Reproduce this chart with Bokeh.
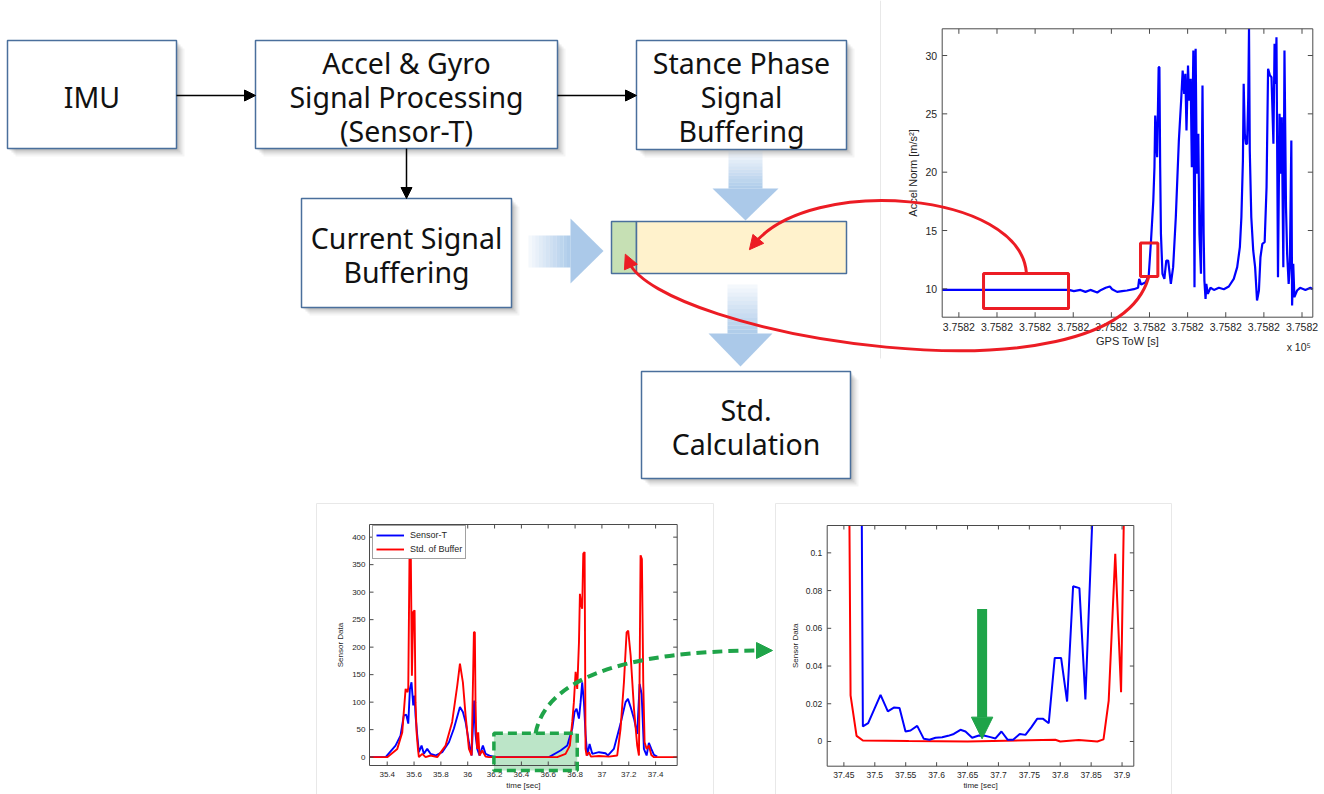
import math
from bokeh.plotting import figure
from bokeh.models import Range1d, Arrow, NormalHead, Legend, LegendItem
from bokeh.core.properties import value
from bokeh.embed import file_html
from bokeh.resources import INLINE

# ------------------------------------------------------------------ data
# Top-right chart: accel norm vs GPS time of week (x in tick units, all ticks read 3.7582 x 10^5)
tow_ticks = [0, 1, 2, 3, 4, 5, 6, 7, 8, 9]
tow_tick_labels = ["3.7582"] * 10
accel_ticks = [10, 15, 20, 25, 30]
accel_tick_labels = ["10", "15", "20", "25", "30"]
tow_rel = [-0.437, 2.885, 3.016, 3.19, 3.32, 3.45, 3.63, 3.73, 3.85, 3.96,
           4.02, 4.15, 4.28, 4.41, 4.59, 4.70, 4.73, 4.78, 4.90, 4.98,
           5.04, 5.10, 5.13, 5.15, 5.17, 5.20, 5.24, 5.26, 5.28, 5.30,
           5.34, 5.39, 5.44, 5.49, 5.56, 5.62, 5.69, 5.77, 5.83, 5.87,
           5.91, 5.94, 5.97, 6.01, 6.04, 6.08, 6.11, 6.15, 6.18, 6.21,
           6.24, 6.28, 6.31, 6.35, 6.39, 6.42, 6.44, 6.47, 6.49, 6.53,
           6.60, 6.69, 6.82, 6.95, 7.08, 7.21, 7.30, 7.37, 7.41, 7.45,
           7.47, 7.50, 7.53, 7.56, 7.59, 7.61, 7.63, 7.67, 7.72, 7.77,
           7.82, 7.87, 7.91, 7.96, 8.02, 8.07, 8.11, 8.16, 8.20, 8.25,
           8.28, 8.31, 8.33, 8.37, 8.41, 8.44, 8.47, 8.51, 8.54, 8.58,
           8.61, 8.65, 8.68, 8.72, 8.74, 8.77, 8.80, 8.87, 8.95, 9.09,
           9.22, 9.28]
accel_norm = [9.91, 9.91, 9.80, 9.91, 9.74, 9.91, 9.69, 9.91, 10.09, 10.2,
              9.97, 9.74, 9.80, 9.86, 9.97, 10.09, 10.86, 10.37, 10.57, 11.14,
              14.14, 17.57, 20.43, 24.86, 23.29, 21.29, 29.0, 29.0, 20.43, 14.71,
              11.29, 10.86, 12.43, 12.43, 10.43, 11.86, 16.14, 22.71, 26.14, 28.71,
              26.71, 28.43, 23.57, 29.14, 26.14, 28.0, 20.43, 30.43, 10.14, 30.57,
              19.86, 23.29, 14.71, 11.29, 27.43, 14.71, 10.71, 9.14, 10.43, 9.57,
              10.09, 9.91, 10.09, 9.97, 10.2, 10.86, 11.86, 13.57, 16.14, 21.0,
              27.57, 23.29, 22.43, 22.43, 26.43, 32.29, 21.86, 16.14, 13.29, 11.86,
              9.0, 9.86, 12.71, 13.86, 14.0, 18.71, 28.86, 28.29, 28.14, 22.43,
              31.0, 27.57, 31.57, 11.0, 25.0, 19.86, 24.71, 11.86, 30.43, 17.0,
              13.0, 10.43, 11.86, 22.71, 8.57, 12.14, 9.29, 9.86, 10.09, 9.91,
              10.09, 9.97]
# highlighted windows on the top-right chart (x0, x1, y0, y1)
window_static = [0.647, 2.876, 8.31, 11.31]
window_current = [4.764, 5.219, 11.06, 13.94]

# Bottom-left chart
bl_x_ticks = [35.4, 35.6, 35.8, 36.0, 36.2, 36.4, 36.6, 36.8, 37.0, 37.2, 37.4]
bl_x_tick_labels = ["35.4", "35.6", "35.8", "36", "36.2", "36.4", "36.6", "36.8", "37", "37.2", "37.4"]
bl_y_ticks = [0, 50, 100, 150, 200, 250, 300, 350, 400]
bl_y_tick_labels = ["0", "50", "100", "150", "200", "250", "300", "350", "400"]
sensor_t_time = [35.268, 35.388, 35.462, 35.499, 35.524, 35.542, 35.557, 35.569, 35.581, 35.594,
                 35.604, 35.611, 35.624, 35.636, 35.656, 35.673, 35.698, 35.723, 35.760, 35.810,
                 35.860, 35.897, 35.942, 35.964, 35.984, 36.009, 36.029, 36.048, 36.058, 36.071,
                 36.088, 36.113, 36.133, 36.170, 36.207, 36.605, 36.692, 36.742, 36.779, 36.796,
                 36.811, 36.829, 36.841, 36.853, 36.866, 36.878, 36.891, 36.908, 36.928, 36.978,
                 37.027, 37.045, 37.089, 37.139, 37.176, 37.194, 37.214, 37.239, 37.263, 37.281,
                 37.296, 37.313, 37.333, 37.350, 37.368, 37.388, 37.412]
sensor_t = [0, 0, 21, 39, 76, 77, 61, 124, 136, 94,
            112, 76, 39, 9, 21, 6, 15, 6, 3, 9,
            27, 52, 91, 82, 64, 27, 3, 103, 42, 15,
            3, 21, 6, 2, 0, 0, 12, 21, 52, 82,
            88, 70, 100, 136, 100, 42, 3, 24, 6, 9,
            7, 3, 15, 61, 100, 106, 91, 70, 42, 133,
            115, 15, 3, 26, 15, 4, 1]
std_buf_time = [35.268, 35.40, 35.475, 35.512, 35.537, 35.552, 35.557, 35.566, 35.576, 35.584,
                35.594, 35.604, 35.611, 35.619, 35.629, 35.636, 35.661, 35.686, 35.723, 35.773,
                35.835, 35.884, 35.922, 35.942, 35.964, 35.984, 36.009, 36.029, 36.046, 36.053,
                36.058, 36.063, 36.071, 36.078, 36.088, 36.108, 36.133, 36.158, 36.667, 36.729,
                36.761, 36.779, 36.791, 36.804, 36.816, 36.829, 36.836, 36.846, 36.853, 36.861,
                36.871, 36.878, 36.886, 36.903, 36.918, 36.978, 37.052, 37.114, 37.139, 37.164,
                37.184, 37.196, 37.214, 37.239, 37.263, 37.276, 37.288, 37.298, 37.308, 37.318,
                37.333, 37.350, 37.368, 37.388, 37.561]
std_buf = [0, 0, 15, 45, 124, 118, 127, 361, 364, 148,
           264, 267, 100, 45, 15, 0, 6, 0, 3, 0,
           21, 64, 130, 170, 136, 76, 15, 3, 227, 227,
           100, 45, 15, 45, 3, 12, 1, 0, 0, 6,
           21, 64, 100, 155, 124, 209, 297, 276, 270, 370,
           373, 15, 3, 9, 1, 2, 1, 3, 52, 136,
           227, 230, 185, 88, 21, 3, 367, 360, 136, 27,
           15, 21, 4, 0, 0]
# highlighted stance window on bottom-left chart (x0, x1, y0, y1)
stance_window = [36.195, 36.816, -24.2, 43.6]

# Bottom-right chart (zoom of stance window)
br_x_ticks = [37.45, 37.5, 37.55, 37.6, 37.65, 37.7, 37.75, 37.8, 37.85, 37.9]
br_x_tick_labels = ["37.45", "37.5", "37.55", "37.6", "37.65", "37.7", "37.75", "37.8", "37.85", "37.9"]
br_y_ticks = [0, 0.02, 0.04, 0.06, 0.08, 0.1]
br_y_tick_labels = ["0", "0.02", "0.04", "0.06", "0.08", "0.1"]
zoom_t_time = [37.479, 37.4807, 37.4893, 37.5093, 37.5211, 37.5308, 37.540, 37.5497, 37.5578, 37.5686,
               37.5793, 37.5885, 37.5982, 37.609, 37.6187, 37.6278, 37.6386, 37.6467, 37.6575, 37.6683,
               37.678, 37.6871, 37.6952, 37.7049, 37.7151, 37.7238, 37.7345, 37.7437, 37.7534, 37.7626,
               37.7723, 37.7814, 37.7911, 37.8014, 37.8111, 37.8208, 37.831, 37.8407, 37.8515]
zoom_t = [0.1145, 0.008, 0.0097, 0.0247, 0.016, 0.018, 0.0178, 0.0053, 0.0058, 0.0083,
          0.0014, 0.0009, 0.002, 0.0023, 0.003, 0.004, 0.0062, 0.0053, 0.002, 0.0032,
          0.003, 0.0023, 0.0016, 0.0053, 0.0009, 0.0009, 0.004, 0.0035, 0.0076, 0.012,
          0.012, 0.0097, 0.0443, 0.0443, 0.0212, 0.0823, 0.0813, 0.0223, 0.1145]
zoom_std_time = [37.459, 37.4608, 37.4705, 37.4807, 37.555, 37.65, 37.792, 37.80, 37.83, 37.86,
                 37.870, 37.8784, 37.889, 37.8984, 37.9027]
zoom_std = [0.1145, 0.0244, 0.003, 0.0005, 0.0002, 0.0, 0.0009, 0.0, 0.0008, 0.0,
            0.0011, 0.0217, 0.0995, 0.0261, 0.1145]
marker_time = 37.6736
marker_top, marker_head, marker_tip = 0.0703, 0.0129, 0.0014
marker_half = 0.0173

# ------------------------------------------------------------------ layout / style
W, H = 1324, 794
BOX_EDGE = "#4a6f9c"
RED = "#ec1c24"
GREEN = "#1fa449"
BLUE_ARROW = "#9cc0e5"
DIAG_FONT = value("Noto Sans")
CHART_FONT = value("Liberation Sans")

p = figure(width=W, height=H, x_range=Range1d(0, W), y_range=Range1d(H, 0),
           output_backend="svg", toolbar_location=None,
           x_axis_type=None, y_axis_type=None, min_border=0,
           outline_line_color=None, background_fill_color="white",
           border_fill_color="white")
p.grid.visible = False

# faint frames of the pasted chart images
p.line(x=[880, 880], y=[0, 358], line_color="#e8e8e8", line_width=1)
p.quad(left=[316, 775], right=[713, 1171], top=[503, 503], bottom=[794, 794],
       fill_color=None, line_color="#e8e8e8", line_width=1)

# ------------------------------------------------------------------ flow diagram
boxes = [
    (7, 176, 40, 148, ["IMU"]),
    (255, 557, 40, 148, ["Accel & Gyro", "Signal Processing", "(Sensor-T)"]),
    (636, 846, 40, 149, ["Stance Phase", "Signal", "Buffering"]),
    (301, 511, 198, 307, ["Current Signal", "Buffering"]),
    (641, 850, 371, 478, ["Std.", "Calculation"]),
]
for off, a in [(2, 0.10), (4, 0.08), (6, 0.06), (8, 0.04)]:
    p.quad(left=[b[0] + off for b in boxes], right=[b[1] + off for b in boxes],
           top=[b[2] + off for b in boxes], bottom=[b[3] + off for b in boxes],
           fill_color="black", fill_alpha=a, line_color=None)
p.quad(left=[b[0] for b in boxes], right=[b[1] for b in boxes],
       top=[b[2] for b in boxes], bottom=[b[3] for b in boxes],
       fill_color="white", line_color=BOX_EDGE, line_width=1.5)
tx, ty, tt = [], [], []
for l, r, t, b, lines in boxes:
    cx, cy = (l + r) / 2, (t + b) / 2
    n = len(lines)
    for i, s in enumerate(lines):
        tx.append(cx)
        ty.append(cy + (i - (n - 1) / 2) * 34 + 2)
        tt.append(s)
p.text(x=tx, y=ty, text=tt, text_font=DIAG_FONT, text_font_size=value("28.5px"),
       text_align="center", text_baseline="middle", text_color="#111111")

# black connector arrows
for xs, ys, xe, ye in [(176, 95, 255, 95), (557, 95, 636, 95), (406, 148, 406, 198)]:
    p.add_layout(Arrow(end=NormalHead(size=11, fill_color="black", line_color="black"),
                       x_start=xs, y_start=ys, x_end=xe, y_end=ye,
                       line_color="black", line_width=1.5))

# fat gradient arrows
def fat_arrow(shaft_a, shaft_b, along0, along1, head_a, head_b, tip, vertical):
    n = 12
    for i in range(n):
        s0 = along0 + (along1 - along0) * i / n
        s1 = along0 + (along1 - along0) * (i + 1) / n
        alpha = 0.08 + 0.75 * (i + 0.5) / n
        if vertical:
            p.quad(left=[shaft_a], right=[shaft_b], top=[s0], bottom=[s1],
                   fill_color=BLUE_ARROW, fill_alpha=alpha, line_color=None)
        else:
            p.quad(left=[s0], right=[s1], top=[shaft_a], bottom=[shaft_b],
                   fill_color=BLUE_ARROW, fill_alpha=alpha, line_color=None)
    mid = (head_a + head_b) / 2
    if vertical:
        p.patch(x=[head_a, head_b, mid], y=[along1, along1, tip],
                fill_color=BLUE_ARROW, fill_alpha=0.85, line_color=None)
    else:
        p.patch(x=[along1, along1, tip], y=[head_a, head_b, mid],
                fill_color=BLUE_ARROW, fill_alpha=0.85, line_color=None)

fat_arrow(728, 762, 150, 188, 712, 778, 220, True)
fat_arrow(235, 267, 528, 570, 218, 283, 603, False)
fat_arrow(727, 757, 284, 333, 708, 772, 366, True)

# buffer bar
p.quad(left=[611], right=[636], top=[221], bottom=[273], fill_color="#c6e0b4",
       line_color=BOX_EDGE, line_width=1.5)
p.quad(left=[636], right=[846], top=[221], bottom=[273], fill_color="#fff2cc",
       line_color=BOX_EDGE, line_width=1.5)

# ------------------------------------------------------------------ chart helper
def chart_axes(sub, xlim, ylim, wpx, hpx, xt, xtl, yt, ytl, xlabel, ylabel,
               fs, lab_fs, tick_px, xl_off, yl_off, xt_off, yt_off, frame="#4a4a4a"):
    dx = (xlim[1] - xlim[0]) * tick_px / wpx
    dy = (ylim[1] - ylim[0]) * tick_px / hpx
    nx, ny = len(xt), len(yt)
    kw = dict(line_color=frame, line_width=1)
    sub.segment(x0=xt, y0=[ylim[0]] * nx, x1=xt, y1=[ylim[0] + dy] * nx, **kw)
    sub.segment(x0=xt, y0=[ylim[1]] * nx, x1=xt, y1=[ylim[1] - dy] * nx, **kw)
    sub.segment(x0=[xlim[0]] * ny, y0=yt, x1=[xlim[0] + dx] * ny, y1=yt, **kw)
    sub.segment(x0=[xlim[1]] * ny, y0=yt, x1=[xlim[1] - dx] * ny, y1=yt, **kw)
    sub.quad(left=[xlim[0]], right=[xlim[1]], bottom=[ylim[0]], top=[ylim[1]],
             fill_color=None, **kw)
    tk = dict(text_font=CHART_FONT, text_color="#262626")
    sub.text(x=xt, y=[ylim[0]] * nx, text=xtl, y_offset=xt_off, text_align="center",
             text_baseline="middle", text_font_size=value(fs), **tk)
    sub.text(x=[xlim[0]] * ny, y=yt, text=ytl, x_offset=yt_off, text_align="right",
             text_baseline="middle", text_font_size=value(fs), **tk)
    sub.text(x=[(xlim[0] + xlim[1]) / 2], y=[ylim[0]], text=[xlabel], y_offset=xl_off,
             text_align="center", text_baseline="middle", text_font_size=value(lab_fs), **tk)
    sub.text(x=[xlim[0]], y=[(ylim[0] + ylim[1]) / 2], text=[ylabel], x_offset=yl_off,
             angle=math.pi / 2, text_align="center", text_baseline="middle",
             text_font_size=value(lab_fs), **tk)

# ------------------------------------------------------------------ top-right chart
tr_x, tr_y = (-0.437, 9.283), (7.57, 32.29)
tr = p.subplot(x_source=Range1d(*tr_x), y_source=Range1d(*tr_y),
               x_target=Range1d(941.7, 1312.3), y_target=Range1d(316.7, 28.3))
tr.line(x=tow_rel, y=accel_norm, line_color="#0000ff", line_width=2.2)
chart_axes(tr, tr_x, tr_y, 370.6, 288.4, tow_ticks, tow_tick_labels, accel_ticks,
           accel_tick_labels, "GPS ToW [s]", "Accel Norm [m/s\u00b2]",
           "10.5px", "11px", 5, 24, -29, 10, -5)
tr.text(x=[tr_x[1]], y=[tr_y[0]], text=["x 10\u2075"], x_offset=-14, y_offset=30,
        text_align="center", text_baseline="middle", text_font=CHART_FONT,
        text_font_size=value("10.5px"), text_color="#262626")
for w in (window_static, window_current):
    tr.quad(left=[w[0]], right=[w[1]], bottom=[w[2]], top=[w[3]], fill_color=None,
            line_color=RED, line_width=3)

# ------------------------------------------------------------------ bottom-left chart
bl_x, bl_y = (35.268, 37.561), (-15.2, 423)
bl = p.subplot(x_source=Range1d(*bl_x), y_source=Range1d(*bl_y),
               x_target=Range1d(369, 676.7), y_target=Range1d(765, 524))
bl.quad(left=[stance_window[0]], right=[stance_window[1]], bottom=[stance_window[2]],
        top=[stance_window[3]], fill_color="#8fd3a3", fill_alpha=0.6, line_color=None)
r_blue = bl.line(x=sensor_t_time, y=sensor_t, line_color="#0000ff", line_width=1.9)
r_red = bl.line(x=std_buf_time, y=std_buf, line_color="#ff0000", line_width=1.9)
chart_axes(bl, bl_x, bl_y, 307.7, 241, bl_x_ticks, bl_x_tick_labels, bl_y_ticks,
           bl_y_tick_labels, "time [sec]", "Sensor Data", "8px", "8px", 4, 20, -29, 9, -4)
bl.quad(left=[stance_window[0]], right=[stance_window[1]], bottom=[stance_window[2]],
        top=[stance_window[3]], fill_color=None, line_color=GREEN, line_width=3.5,
        line_dash="9 5")
legend = Legend(items=[LegendItem(label="Sensor-T", renderers=[r_blue]),
                       LegendItem(label="Std. of Buffer", renderers=[r_red])],
                location=(372, 235), orientation="vertical", margin=0, padding=3,
                spacing=2, glyph_width=28, glyph_height=12, label_height=12,
                label_standoff=6, label_text_font="Liberation Sans",
                label_text_font_size="9px", label_text_color="#262626",
                border_line_color="#444444", border_line_width=1,
                background_fill_color="white", background_fill_alpha=1)
p.add_layout(legend)

# ------------------------------------------------------------------ bottom-right chart
br_x, br_y = (37.423, 37.919), (-0.0131, 0.1145)
br = p.subplot(x_source=Range1d(*br_x), y_source=Range1d(*br_y),
               x_target=Range1d(826.7, 1133.3), y_target=Range1d(765.7, 525))
br.line(x=zoom_std_time, y=zoom_std, line_color="#ff0000", line_width=2)
br.line(x=zoom_t_time, y=zoom_t, line_color="#0000ff", line_width=2)
chart_axes(br, br_x, br_y, 306.6, 240.7, br_x_ticks, br_x_tick_labels, br_y_ticks,
           br_y_tick_labels, "time [sec]", "Sensor Data", "8.5px", "8px", 4, 19, -32, 8.5, -5)
br.segment(x0=[marker_time], y0=[marker_top], x1=[marker_time], y1=[marker_head],
           line_color=GREEN, line_width=10)
br.patch(x=[marker_time - marker_half, marker_time + marker_half, marker_time],
         y=[marker_head, marker_head, marker_tip], fill_color=GREEN, line_color=GREEN)

# ------------------------------------------------------------------ curved pointers
def curved_arrow(p0, c0, c1, p1, color, width, dash="solid", head=14, ahead=8):
    p.bezier(x0=[p0[0]], y0=[p0[1]], cx0=[c0[0]], cy0=[c0[1]], cx1=[c1[0]], cy1=[c1[1]],
             x1=[p1[0]], y1=[p1[1]], line_color=color, line_width=width, line_dash=dash)
    dx, dy = p1[0] - c1[0], p1[1] - c1[1]
    n = math.hypot(dx, dy)
    ux, uy = dx / n, dy / n
    p.add_layout(Arrow(end=NormalHead(size=head, fill_color=color, line_color=color, line_width=1),
                       x_start=p1[0] - 2 * ux, y_start=p1[1] - 2 * uy,
                       x_end=p1[0] + ahead * ux, y_end=p1[1] + ahead * uy,
                       line_color=color, line_width=width))

curved_arrow((1026, 273), (1020, 190), (810, 175), (754, 243), RED, 3)
curved_arrow((1148, 277), (1110, 410), (660, 335), (628, 261), RED, 3)
curved_arrow((535, 733), (545, 680), (620, 650), (762, 650), GREEN, 4, dash="10 6", head=16, ahead=10)

open("out.html", "w").write(file_html(p, INLINE))
